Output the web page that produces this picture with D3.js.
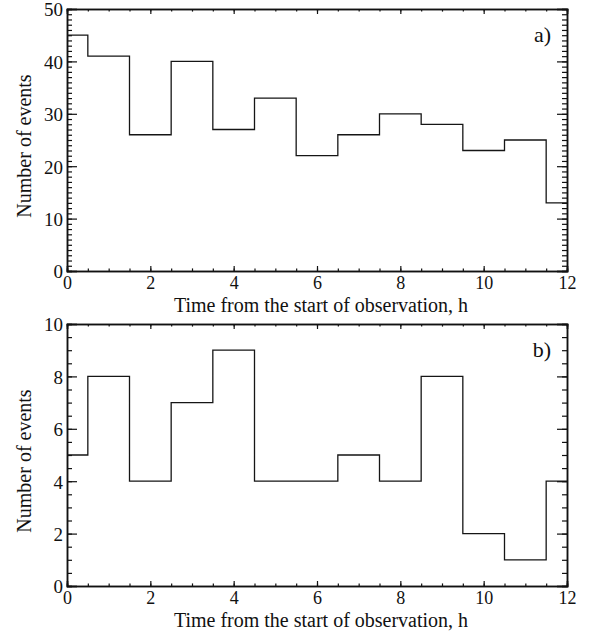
<!DOCTYPE html>
<html>
<head>
<meta charset="utf-8">
<script src="https://cdn.jsdelivr.net/npm/d3@7"></script>
<style>
  body { margin: 0; background: #fff; }
  svg text { font-family: "Liberation Serif", "Times New Roman", serif; fill: #111; }
</style>
</head>
<body>
<div id="chart"></div>
<script>
// Bin edges (hours) and counts for both panels
var binEdges = [0, 0.5, 1.5, 2.5, 3.5, 4.5, 5.5, 6.5, 7.5, 8.5, 9.5, 10.5, 11.5, 12];
var countsA = [45, 41, 26, 40, 27, 33, 22, 26, 30, 28, 23, 25, 13];
var countsB = [5, 8, 4, 7, 9, 4, 4, 5, 4, 8, 2, 1, 4];

var xTicks = [0, 2, 4, 6, 8, 10, 12];
var yTicksA = [0, 10, 20, 30, 40, 50];
var yTicksB = [0, 2, 4, 6, 8, 10];

var xTitle = "Time from the start of observation, h";
var yTitle = "Number of events";

var svgWidth = 592;
var svgHeight = 637;

var svg = d3.select("#chart")
  .append("svg")
  .attr("width", svgWidth)
  .attr("height", svgHeight);

var left = 67, right = 567;
var plotHeight = 262;

// Draw a single panel
function drawPanel(top, counts, yMax, yTicks, yMinorStep, label) {
  var x = d3.scaleLinear().domain([0, 12]).range([left, right]);
  var y = d3.scaleLinear().domain([0, yMax]).range([top + plotHeight, top]);

  var xMinor = d3.range(0, 12.001, 0.5);
  var yMinor = d3.range(0, yMax + 0.001, yMinorStep);

  var g = svg.append("g");

  // minor ticks (inward)
  var bottomMinor = d3.axisBottom(x).tickValues(xMinor).tickSize(-2.6).tickFormat("");
  var topMinor = d3.axisTop(x).tickValues(xMinor).tickSize(-2.6).tickFormat("");
  var leftMinor = d3.axisLeft(y).tickValues(yMinor).tickSize(-5).tickFormat("");
  var rightMinor = d3.axisRight(y).tickValues(yMinor).tickSize(-5).tickFormat("");

  g.append("g").attr("transform", `translate(0, ${top + plotHeight})`).call(bottomMinor);
  g.append("g").attr("transform", `translate(0, ${top})`).call(topMinor);
  g.append("g").attr("transform", `translate(${left}, 0)`).call(leftMinor);
  g.append("g").attr("transform", `translate(${right}, 0)`).call(rightMinor);

  // major ticks
  var bottomAxis = d3.axisBottom(x).tickValues(xTicks).tickSize(-5).tickPadding(0);
  var topAxis = d3.axisTop(x).tickValues(xTicks).tickSize(-5).tickFormat("");
  var leftAxis = d3.axisLeft(y).tickValues(yTicks).tickSize(-10).tickPadding(0);
  var rightAxis = d3.axisRight(y).tickValues(yTicks).tickSize(-10).tickFormat("");

  var bx = g.append("g").attr("transform", `translate(0, ${top + plotHeight})`).call(bottomAxis);
  g.append("g").attr("transform", `translate(0, ${top})`).call(topAxis);
  var ly = g.append("g").attr("transform", `translate(${left}, 0)`).call(leftAxis);
  g.append("g").attr("transform", `translate(${right}, 0)`).call(rightAxis);

  bx.selectAll("text")
    .attr("y", 18)
    .attr("dy", 0)
    .style("font-size", "18px");
  ly.selectAll("text")
    .attr("x", -4)
    .attr("dy", "0.36em")
    .style("font-size", "19px");

  g.selectAll(".domain").attr("stroke", "#111").attr("stroke-width", 1.5);
  g.selectAll(".tick line").attr("stroke", "#111").attr("stroke-width", 1.2);

  // histogram as step line
  var pts = counts.map((c, i) => [binEdges[i], c]);
  pts.push([binEdges[binEdges.length - 1], counts[counts.length - 1]]);

  var line = d3.line()
    .x(d => x(d[0]))
    .y(d => y(d[1]))
    .curve(d3.curveStepAfter);

  g.append("path")
    .datum(pts)
    .attr("fill", "none")
    .attr("stroke", "#151515")
    .attr("stroke-width", 1.3)
    .attr("d", line);

  // panel label
  g.append("text")
    .attr("x", 551)
    .attr("y", top + 33)
    .attr("text-anchor", "end")
    .style("font-size", "22px")
    .text(label);

  // axis titles
  g.append("text")
    .attr("x", 321)
    .attr("y", top + plotHeight + 41)
    .attr("text-anchor", "middle")
    .style("font-size", "20px")
    .text(xTitle);

  g.append("text")
    .attr("transform", `translate(31, ${top + plotHeight / 2 + 6}) rotate(-90)`)
    .attr("text-anchor", "middle")
    .style("font-size", "20px")
    .text(yTitle);
}

drawPanel(9, countsA, 50, yTicksA, 1, "a)");
drawPanel(324, countsB, 10, yTicksB, 0.5, "b)");
</script>
</body>
</html>
